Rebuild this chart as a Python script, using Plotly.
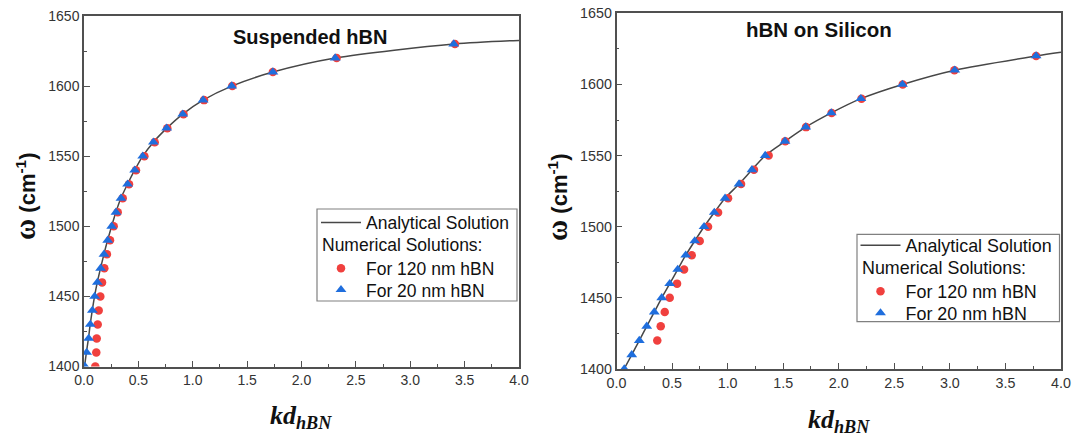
import plotly.graph_objects as go

W, H = 1075, 439

# ---------------- data ----------------
omega = [1400, 1410, 1420, 1430, 1440, 1450, 1460, 1470, 1480, 1490, 1500, 1510,
         1520, 1530, 1540, 1550, 1560, 1570, 1580, 1590, 1600, 1610, 1620, 1630]

# Suspended hBN
susp_20nm_kd = [0.009, 0.024, 0.043, 0.058, 0.077, 0.098, 0.123, 0.153, 0.184, 0.218,
                0.255, 0.294, 0.340, 0.401, 0.466, 0.540, 0.638, 0.760, 0.908, 1.095,
                1.358, 1.737, 2.310, 3.400]
susp_120nm_kd = [0.104, 0.113, 0.117, 0.126, 0.135, 0.150, 0.166, 0.187, 0.211, 0.239,
                 0.273, 0.310, 0.356, 0.414, 0.478, 0.555, 0.650, 0.766, 0.915, 1.104,
                 1.364, 1.737, 2.323, 3.411]
susp_curve_kd = [0.005, 0.022, 0.041, 0.057, 0.076, 0.097, 0.122, 0.152, 0.183, 0.217,
                 0.254, 0.293, 0.339, 0.400, 0.466, 0.540, 0.638, 0.762, 0.908, 1.095,
                 1.358, 1.737, 2.310, 3.400, 4.000]
susp_curve_w = [1400, 1410, 1420, 1430, 1440, 1450, 1460, 1470, 1480, 1490, 1500, 1510,
                1520, 1530, 1540, 1550, 1560, 1570, 1580, 1590, 1600, 1610, 1620, 1630,
                1632.6]

# hBN on Silicon
si_omega_20 = [1400, 1410, 1420, 1430, 1440, 1450, 1460, 1470, 1480, 1490, 1500, 1510,
               1520, 1530, 1540, 1550, 1560, 1570, 1580, 1590, 1600, 1610, 1620]
si_20nm_kd = [0.070, 0.137, 0.205, 0.272, 0.340, 0.407, 0.479, 0.551, 0.623, 0.704,
              0.788, 0.880, 0.977, 1.103, 1.219, 1.338, 1.516, 1.703, 1.933, 2.199,
              2.573, 3.044, 3.776]
si_omega_120 = [1420, 1430, 1440, 1450, 1460, 1470, 1480, 1490, 1500, 1510,
                1520, 1530, 1540, 1550, 1560, 1570, 1580, 1590, 1600, 1610, 1620]
si_120nm_kd = [0.367, 0.398, 0.434, 0.479, 0.545, 0.608, 0.677, 0.749, 0.824, 0.914,
               1.004, 1.121, 1.237, 1.369, 1.519, 1.706, 1.936, 2.205, 2.576, 3.041,
               3.776]
si_curve_kd = [0.068, 0.137, 0.205, 0.272, 0.340, 0.407, 0.479, 0.551, 0.623, 0.704,
               0.788, 0.880, 0.977, 1.103, 1.219, 1.338, 1.516, 1.703, 1.933, 2.199,
               2.573, 3.044, 3.776, 4.000]
si_curve_w = [1400, 1410, 1420, 1430, 1440, 1450, 1460, 1470, 1480, 1490, 1500, 1510,
              1520, 1530, 1540, 1550, 1560, 1570, 1580, 1590, 1600, 1610, 1620, 1622.6]

x_ticks = [0.0, 0.5, 1.0, 1.5, 2.0, 2.5, 3.0, 3.5, 4.0]
x_tick_text = ["0.0", "0.5", "1.0", "1.5", "2.0", "2.5", "3.0", "3.5", "4.0"]
y_ticks = [1400, 1450, 1500, 1550, 1600, 1650]

panel_titles = ["Suspended hBN", "hBN on Silicon"]
legend_line_name = "Analytical Solution"
legend_group_title = "Numerical Solutions:"
legend_120 = "For 120 nm hBN"
legend_20 = "For 20 nm hBN"

# ---------------- styles ----------------
RED = "#F0403E"
BLUE = "#1F6EDD"
LINE = "#474747"
FRAME = "#505050"
SANS = "Liberation Sans, Arial, sans-serif"
SERIF = "Liberation Serif, Times New Roman, serif"


def px(x):
    return x / W


def py(y):
    return 1 - y / H


fig = go.Figure()

panels = [
    dict(xa="x", ya="y", curve=(susp_curve_kd, susp_curve_w),
         c120=(susp_120nm_kd, omega), c20=(susp_20nm_kd, omega),
         legs=("legend", "legend2", "legend3")),
    dict(xa="x2", ya="y2", curve=(si_curve_kd, si_curve_w),
         c120=(si_120nm_kd, si_omega_120), c20=(si_20nm_kd, si_omega_20),
         legs=("legend4", "legend5", "legend6")),
]

for p in panels:
    fig.add_trace(go.Scatter(x=p["curve"][0], y=p["curve"][1], mode="lines",
                             line=dict(color=LINE, width=1.5, shape="spline", smoothing=0.8),
                             name=legend_line_name, xaxis=p["xa"], yaxis=p["ya"],
                             legend=p["legs"][0]))
    fig.add_trace(go.Scatter(x=p["c120"][0], y=p["c120"][1], mode="markers",
                             marker=dict(color=RED, size=8.5, symbol="circle"),
                             name=legend_120, xaxis=p["xa"], yaxis=p["ya"],
                             legend=p["legs"][1]))
    fig.add_trace(go.Scatter(x=p["c20"][0], y=p["c20"][1], mode="markers",
                             marker=dict(color=BLUE, size=9.5, symbol="triangle-up"),
                             name=legend_20, xaxis=p["xa"], yaxis=p["ya"],
                             legend=p["legs"][2]))

# plot-area geometry (pixels)
L = dict(x0=84, x1=519, y0=16, y1=366.5)
R = dict(x0=616.5, x1=1061, y0=13.3, y1=369)


def xaxis(geo, anchor, fs):
    return dict(domain=[px(geo["x0"]), px(geo["x1"])], anchor=anchor, range=[0, 4],
                tickmode="array", tickvals=x_ticks, ticktext=x_tick_text,
                ticks="inside", ticklen=6, tickwidth=1.3, tickcolor=FRAME,
                minor=dict(ticks="inside", ticklen=3, tickwidth=1.2, tickcolor=FRAME, dtick=0.25),
                showline=True, linecolor=FRAME, linewidth=1.5, mirror=True,
                showgrid=False, zeroline=False, automargin=False,
                tickfont=dict(family=SANS, size=fs, color="#333"))


def yaxis(geo, anchor, fs):
    return dict(domain=[py(geo["y1"]), py(geo["y0"])], anchor=anchor, range=[1400, 1650],
                tickmode="array", tickvals=y_ticks,
                ticks="inside", ticklen=6, tickwidth=1.3, tickcolor=FRAME,
                minor=dict(ticks="inside", ticklen=3, tickwidth=1.2, tickcolor=FRAME, dtick=25),
                showline=True, linecolor=FRAME, linewidth=1.5, mirror=True,
                showgrid=False, zeroline=False, automargin=False,
                tickfont=dict(family=SANS, size=fs, color="#333"))


def leg(x, yc, fs):
    return dict(x=px(x), y=py(yc), xanchor="left", yanchor="middle",
                bgcolor="rgba(0,0,0,0)", borderwidth=0, itemwidth=40,
                font=dict(family=SANS, size=fs, color="#111"))


ytitle = ('<b><span style="font-family:Liberation Serif;font-size:29px">ω</span>'
          ' (cm<sup>-1</sup>)</b>')
xtitle = "<b><i>kd<sub>hBN</sub></i></b>"

annotations = [
    dict(text="<b>%s</b>" % panel_titles[0], x=px(310), y=py(37), xref="paper", yref="paper",
         showarrow=False, xanchor="center", yanchor="middle",
         font=dict(family=SANS, size=20, color="#111")),
    dict(text="<b>%s</b>" % panel_titles[1], x=px(819.5), y=py(29), xref="paper", yref="paper",
         showarrow=False, xanchor="center", yanchor="middle",
         font=dict(family=SANS, size=20.5, color="#111")),
    dict(text=xtitle, x=px(301), y=py(417), xref="paper", yref="paper",
         showarrow=False, xanchor="center", yanchor="middle",
         font=dict(family=SERIF, size=26, color="#111")),
    dict(text=xtitle, x=px(839), y=py(421), xref="paper", yref="paper",
         showarrow=False, xanchor="center", yanchor="middle",
         font=dict(family=SERIF, size=26, color="#111")),
    dict(text=ytitle, x=px(25), y=py(197), xref="paper", yref="paper", textangle=-90,
         showarrow=False, xanchor="center", yanchor="middle",
         font=dict(family=SANS, size=22, color="#111")),
    dict(text=ytitle, x=px(557), y=py(198), xref="paper", yref="paper", textangle=-90,
         showarrow=False, xanchor="center", yanchor="middle",
         font=dict(family=SANS, size=22, color="#111")),
    dict(text=legend_group_title, x=px(320), y=py(245), xref="paper", yref="paper",
         showarrow=False, xanchor="left", yanchor="middle",
         font=dict(family=SANS, size=17.5, color="#111")),
    dict(text=legend_group_title, x=px(860), y=py(268.3), xref="paper", yref="paper",
         showarrow=False, xanchor="left", yanchor="middle",
         font=dict(family=SANS, size=17.9, color="#111")),
]

shapes = [
    dict(type="rect", xref="paper", yref="paper", x0=px(317), x1=px(517), y0=py(301), y1=py(209),
         line=dict(color="#808080", width=1.2), fillcolor="rgba(0,0,0,0)", layer="above"),
    dict(type="rect", xref="paper", yref="paper", x0=px(857), x1=px(1059.5), y0=py(321.7), y1=py(234.3),
         line=dict(color="#808080", width=1.2), fillcolor="rgba(0,0,0,0)", layer="above"),
]

fig.update_layout(
    width=W, height=H, autosize=False,
    margin=dict(l=0, r=0, t=0, b=0, autoexpand=False),
    paper_bgcolor="white", plot_bgcolor="white",
    xaxis=xaxis(L, "y", 14), yaxis=yaxis(L, "x", 14),
    xaxis2=xaxis(R, "y2", 14.3), yaxis2=yaxis(R, "x2", 14.3),
    legend=leg(316, 222.7, 17.5), legend2=leg(316, 268.3, 17.5), legend3=leg(316, 289.8, 17.5),
    legend4=leg(855.5, 245.7, 17.9), legend5=leg(855.5, 291.7, 17.9), legend6=leg(855.5, 313.3, 17.9),
    annotations=annotations, shapes=shapes,
    showlegend=True,
)

fig.write_html("out.html")
